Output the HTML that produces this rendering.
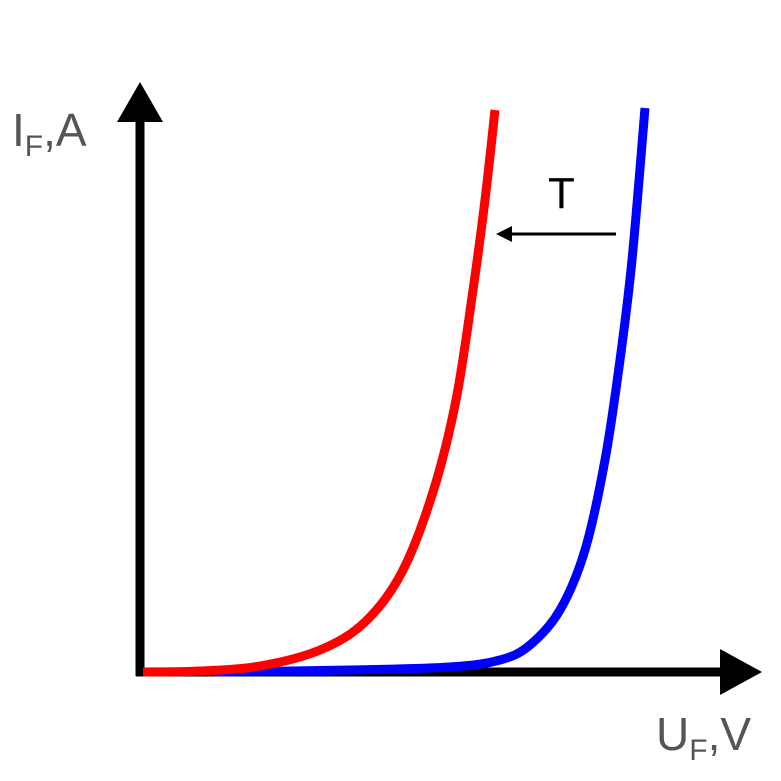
<!DOCTYPE html>
<html><head><meta charset="utf-8"><style>
html,body{margin:0;padding:0;background:#fff;}
svg{display:block;font-family:"Liberation Sans",sans-serif;}
</style></head><body>
<svg id="chart" width="781" height="781" viewBox="0 0 781 781">
<line x1="140" y1="676" x2="140" y2="115" stroke="#000" stroke-width="9"/>
<polygon points="140,82 117,122 163,122" fill="#000"/>
<line x1="136" y1="672" x2="725" y2="672" stroke="#000" stroke-width="9"/>
<polygon points="762,672 720,649 720,695" fill="#000"/>
<g id="curves"></g>
<text x="12" y="146" font-size="46" fill="#555">I<tspan font-size="30" dy="10">F</tspan><tspan dy="-10">,A</tspan></text>
<text x="656" y="750" font-size="46" fill="#555">U<tspan font-size="30" dy="10">F</tspan><tspan dy="-10">,V</tspan></text>
<text x="548" y="208" font-size="44" fill="#000">T</text>
<line x1="616" y1="234" x2="508" y2="234" stroke="#000" stroke-width="3"/>
<polygon points="496,234 512,226 512,242" fill="#000"/>
</svg>
<script>
const redU = [3,60,120,180,225,262,293,316,333,345,355];
const redI = [0,1,6,22,50,100,180,272,382,472,562];
const blueU = [75,210,310,360,390,420,445,465,480,492,505];
const blueI = [0,2,5,12,27,62,122,212,312,412,564];
const x0=140, y0=672;
function sx(u){return x0+u;}
function sy(i){return y0-i;}
function pathFrom(U,I){
  const p=U.map((u,k)=>[sx(u),sy(I[k])]);
  let d='M'+p[0][0]+','+p[0][1];
  for(let k=0;k<p.length-1;k++){
    const a=p[Math.max(k-1,0)],b=p[k],c=p[k+1],e=p[Math.min(k+2,p.length-1)];
    const c1=[b[0]+(c[0]-a[0])/6,b[1]+(c[1]-a[1])/6];
    const c2=[c[0]-(e[0]-b[0])/6,c[1]-(e[1]-b[1])/6];
    d+=' C'+c1[0]+','+c1[1]+' '+c2[0]+','+c2[1]+' '+c[0]+','+c[1];
  }
  return d;
}
const g=document.getElementById('curves');
const ns='http://www.w3.org/2000/svg';
const blue=document.createElementNS(ns,'path');
blue.setAttribute('d',pathFrom(blueU,blueI));
blue.setAttribute('fill','none');blue.setAttribute('stroke','#0000ff');blue.setAttribute('stroke-width','9');


g.appendChild(blue);
const red=document.createElementNS(ns,'path');
red.setAttribute('d',pathFrom(redU,redI));
red.setAttribute('fill','none');red.setAttribute('stroke','#ff0000');red.setAttribute('stroke-width','9');


g.appendChild(red);
</script>
</body></html>
